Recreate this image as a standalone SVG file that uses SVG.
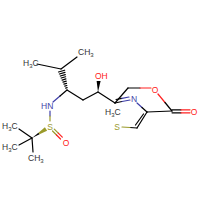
<svg xmlns="http://www.w3.org/2000/svg" width="200" height="200" viewBox="0 0 200 200">
<style>
line{stroke:#000;stroke-width:1.2;stroke-linecap:round}
line.n{stroke:#3f3fa8}
line.o{stroke:#ff2020}
line.s{stroke:#9a9a2a}
text{font-family:"Liberation Sans",Arial,sans-serif;font-size:8.5px;fill:#333}
text.n{fill:#3f3fa8}
text.o{fill:#ff2020}
text.s{fill:#9a9a2a}
tspan.sub{font-size:6px}
</style>
<rect width="200" height="200" fill="#fff"/>
<g id="connectors">
  <line x1="37" y1="64" x2="61" y2="69"/>
  <line x1="61" y1="69" x2="77" y2="57"/>
  <g stroke-width="1">
    <line x1="65.63" y1="88.12" x2="67.17" y2="87.68"/>
    <line x1="64.74" y1="86.10" x2="66.86" y2="85.50"/>
    <line x1="63.85" y1="84.09" x2="66.55" y2="83.31"/>
    <line x1="62.96" y1="82.07" x2="66.24" y2="81.13"/>
    <line x1="62.07" y1="80.05" x2="65.93" y2="78.95"/>
    <line x1="61.19" y1="78.03" x2="65.61" y2="76.77"/>
    <line x1="60.30" y1="76.02" x2="65.30" y2="74.58"/>
    <line x1="59.41" y1="74.00" x2="64.99" y2="72.40"/>
    <line x1="58.52" y1="71.98" x2="64.68" y2="70.22"/>
  </g>
  <line class="n" x1="53" y1="102" x2="60" y2="96"/>
  <line x1="60" y1="96" x2="67" y2="90"/>
  <line x1="67" y1="90" x2="83" y2="100"/>
  <line x1="83" y1="100" x2="98" y2="92"/>
  <polygon points="98,92 96.6,81 100.6,81" fill="#000"/>
  <line x1="98" y1="92" x2="115" y2="103"/>
  <line class="n" x1="50" y1="111" x2="50" y2="116"/>
  <line class="s" x1="50" y1="116" x2="50" y2="121"/>
  <polygon points="32,138 39.54,134.34 38.46,132.66" fill="#000"/>
  <polygon points="38.46,132.66 39.54,134.34 47.1,130.7 44.9,127.3" fill="#9a9a2a"/>
  <line class="s" x1="52.5" y1="131" x2="56.5" y2="135"/>
  <line class="o" x1="56.5" y1="135" x2="60.5" y2="139"/>
  <line class="s" x1="54.3" y1="129.2" x2="58.3" y2="133.2"/>
  <line class="o" x1="58.3" y1="133.2" x2="62.3" y2="137.2"/>
  <line x1="32" y1="138" x2="19" y2="129"/>
  <line x1="32" y1="138" x2="19" y2="145"/>
  <line x1="32" y1="138" x2="33" y2="152"/>
  <line x1="115" y1="103" x2="128" y2="88"/>
  <line x1="128" y1="88" x2="140" y2="88"/>
  <line class="o" x1="140" y1="88" x2="151" y2="88"/>
  <line class="o" x1="158" y1="94" x2="165" y2="102.5"/>
  <line x1="165" y1="102.5" x2="172" y2="111"/>
  <line x1="147" y1="112" x2="172" y2="111"/>
  <line x1="172" y1="109.8" x2="181" y2="109.8"/>
  <line class="o" x1="181" y1="109.8" x2="190" y2="109.8"/>
  <line x1="172" y1="112.8" x2="181" y2="112.8"/>
  <line class="o" x1="181" y1="112.8" x2="190" y2="112.8"/>
  <line x1="115" y1="103" x2="122" y2="101.5"/>
  <line class="n" x1="122" y1="101.5" x2="130" y2="100"/>
  <line x1="116" y1="99.5" x2="122" y2="98.3"/>
  <line class="n" x1="122" y1="98.3" x2="129" y2="97"/>
  <line class="n" x1="137" y1="103" x2="142" y2="107.5"/>
  <line x1="142" y1="107.5" x2="147" y2="112"/>
  <line x1="147" y1="112" x2="137" y2="128"/>
  <line x1="143.5" y1="114" x2="135.5" y2="125"/>
  <line x1="137" y1="128" x2="130" y2="127.5"/>
  <line class="s" x1="130" y1="127.5" x2="122" y2="127"/>
</g>
<g id="iPr-CH3"><text x="78" y="55">CH<tspan class="sub" dy="2">3</tspan></text></g>
<g id="iPr-H3C"><text x="23" y="66">H<tspan class="sub" dy="2">3</tspan><tspan dy="-2">C</tspan></text></g>
<g id="OH"><text class="o" x="95" y="79">OH</text></g>
<g id="HN"><text class="n" x="41" y="109">HN</text></g>
<g id="S1"><text class="s" x="50" y="130" text-anchor="middle">S</text></g>
<g id="O1"><text class="o" x="66" y="146" text-anchor="middle">O</text></g>
<g id="tBu-H3C-1"><text x="2" y="129">H<tspan class="sub" dy="2">3</tspan><tspan dy="-2">C</tspan></text></g>
<g id="tBu-H3C-2"><text x="2" y="150">H<tspan class="sub" dy="2">3</tspan><tspan dy="-2">C</tspan></text></g>
<g id="tBu-CH3"><text x="28" y="161">CH<tspan class="sub" dy="2">3</tspan></text></g>
<g id="N"><text class="n" x="134" y="102" text-anchor="middle">N</text></g>
<g id="H3C-ring"><text x="105" y="115">H<tspan class="sub" dy="2">3</tspan><tspan dy="-2">C</tspan></text></g>
<g id="S2"><text class="s" x="117" y="130" text-anchor="middle">S</text></g>
<g id="O-ester"><text class="o" x="155" y="93" text-anchor="middle">O</text></g>
<g id="O-carbonyl"><text class="o" x="194" y="115" text-anchor="middle">O</text></g>
</svg>
